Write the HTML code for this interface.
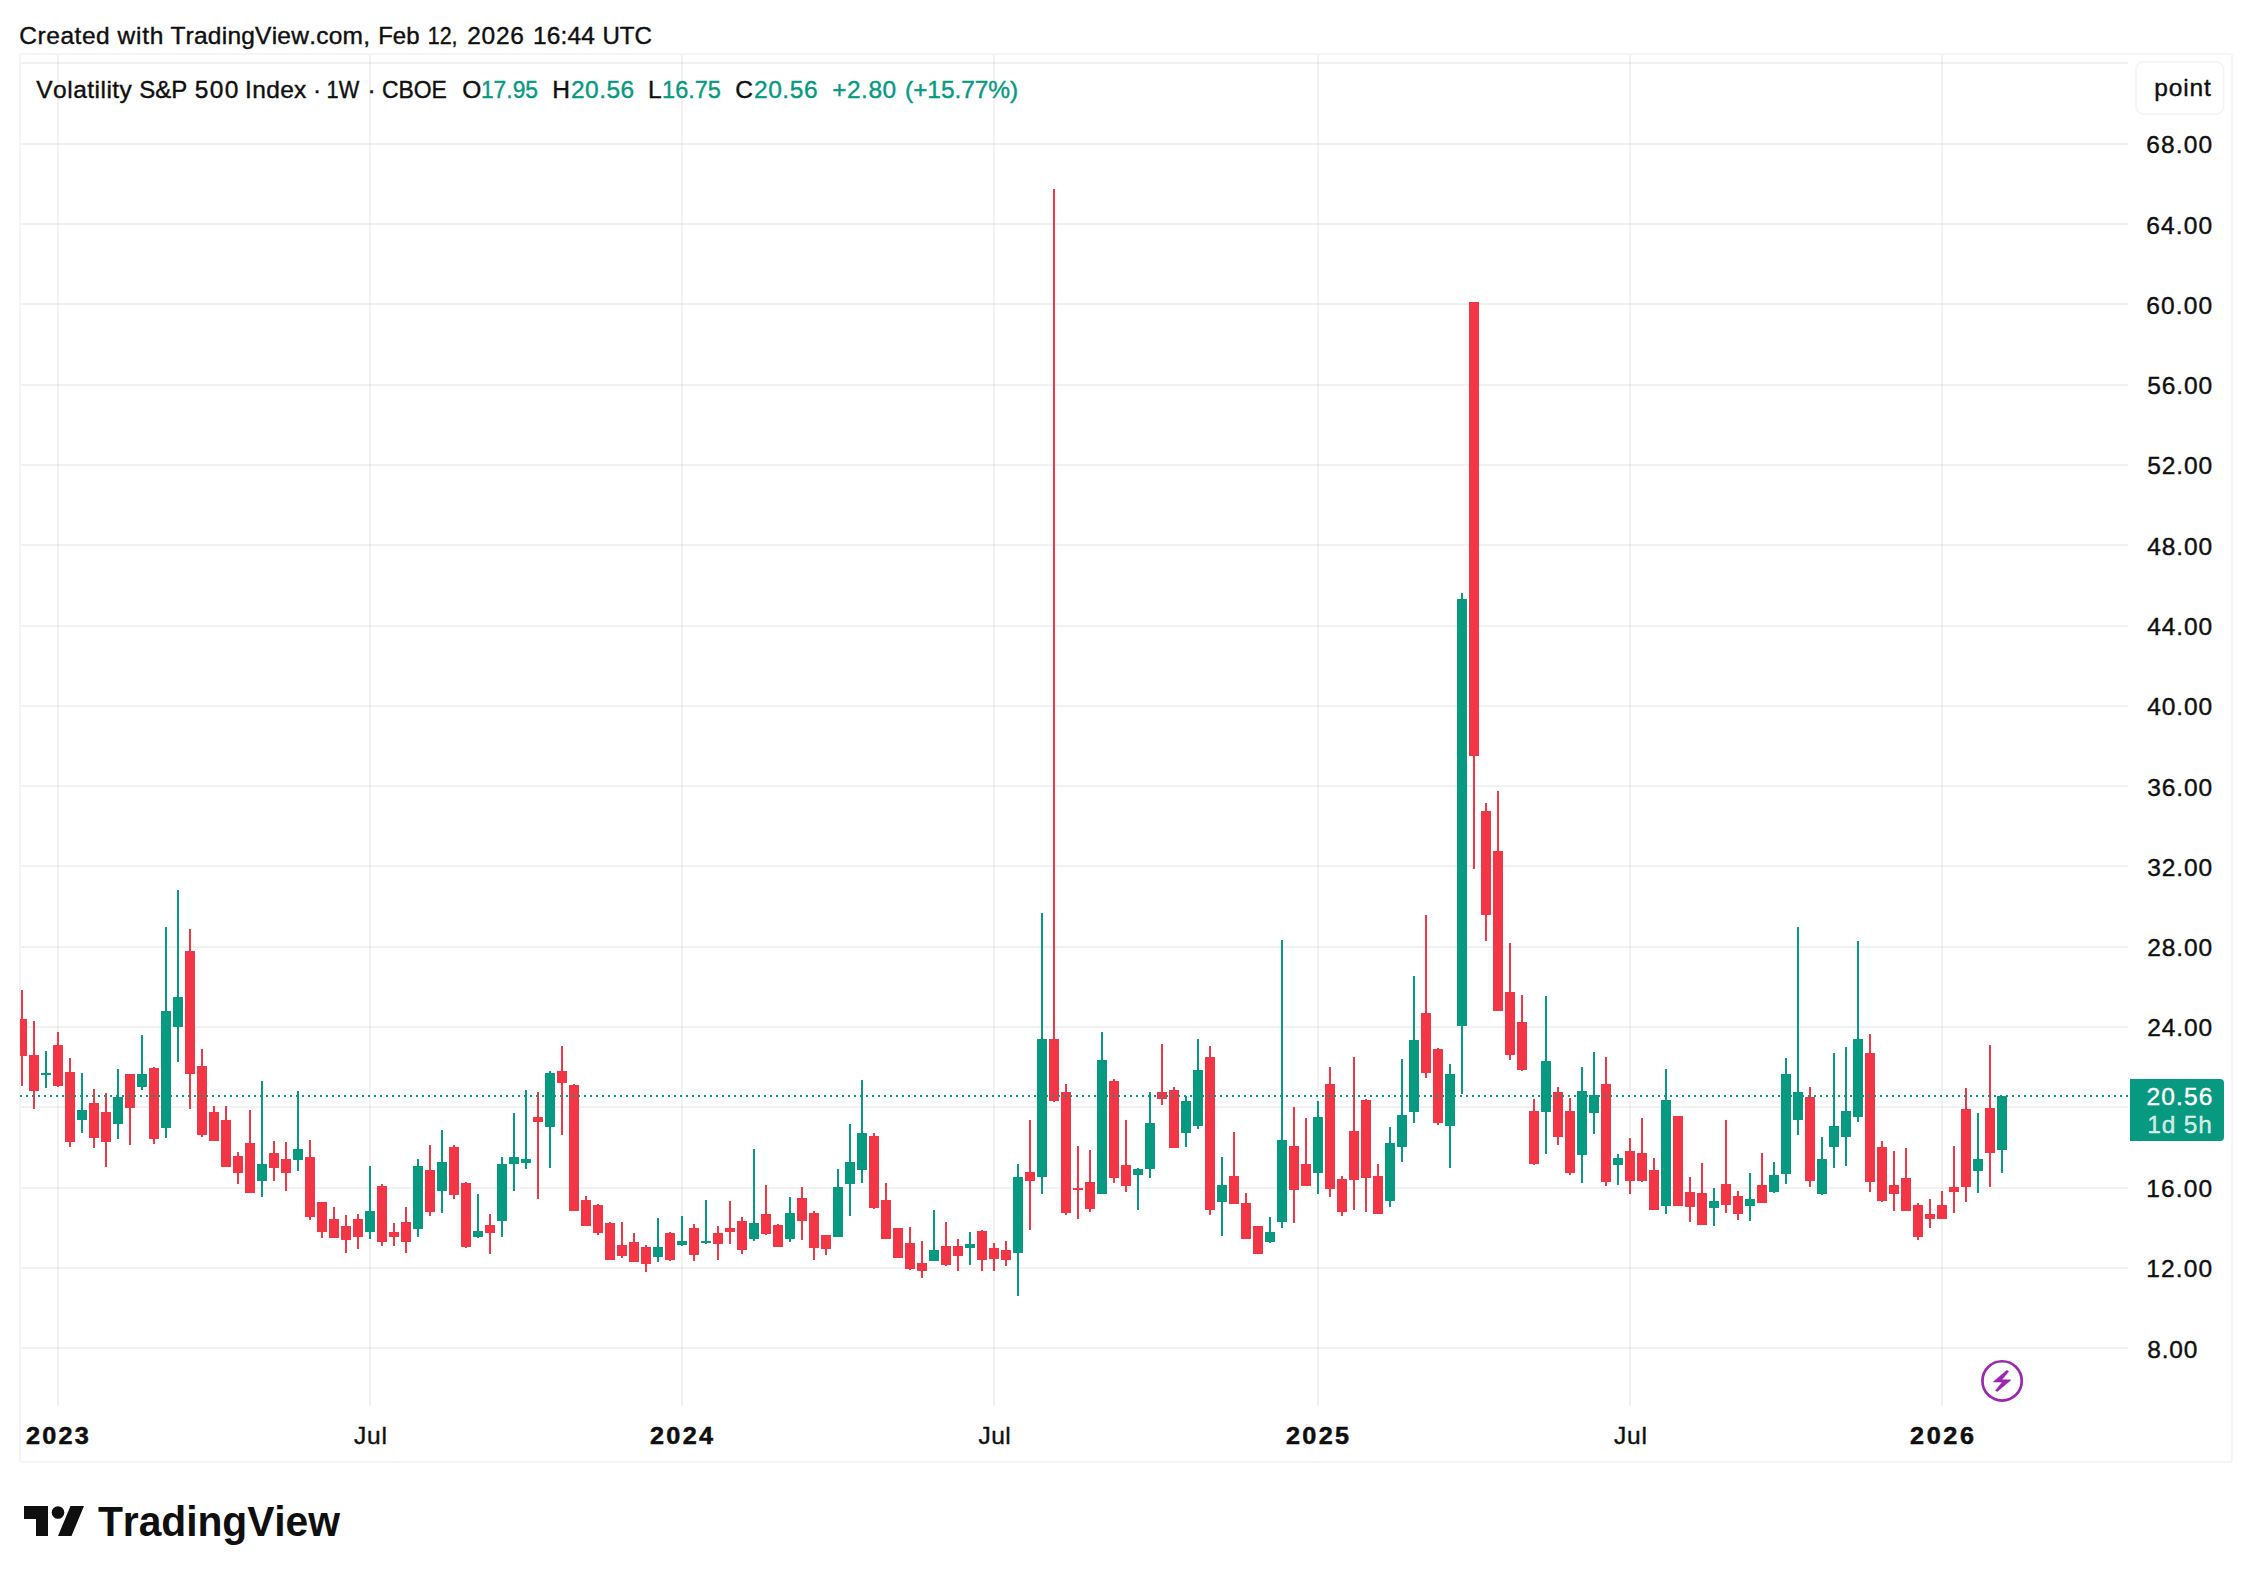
<!DOCTYPE html><html><head><meta charset="utf-8"><title>VIX chart</title><style>html,body{margin:0;padding:0;background:#fff}body{width:2252px;height:1582px;overflow:hidden}</style></head><body><svg width="2252" height="1582" viewBox="0 0 2252 1582" font-family="'Liberation Sans', Arial, sans-serif" style="display:block;font-kerning:none">
<rect width="2252" height="1582" fill="#fff"/>
<g fill="rgba(0,0,0,0.05)" shape-rendering="crispEdges">
<rect x="21" y="1347" width="2107" height="2"/>
<rect x="21" y="1267" width="2107" height="2"/>
<rect x="21" y="1187" width="2107" height="2"/>
<rect x="21" y="1106" width="2107" height="2"/>
<rect x="21" y="1026" width="2107" height="2"/>
<rect x="21" y="946" width="2107" height="2"/>
<rect x="21" y="865" width="2107" height="2"/>
<rect x="21" y="785" width="2107" height="2"/>
<rect x="21" y="705" width="2107" height="2"/>
<rect x="21" y="625" width="2107" height="2"/>
<rect x="21" y="544" width="2107" height="2"/>
<rect x="21" y="464" width="2107" height="2"/>
<rect x="21" y="384" width="2107" height="2"/>
<rect x="21" y="303" width="2107" height="2"/>
<rect x="21" y="223" width="2107" height="2"/>
<rect x="21" y="143" width="2107" height="2"/>
<rect x="21" y="62" width="2107" height="2"/>
<rect x="57" y="55" width="2" height="1351"/>
<rect x="369" y="55" width="2" height="1351"/>
<rect x="681" y="55" width="2" height="1351"/>
<rect x="993" y="55" width="2" height="1351"/>
<rect x="1317" y="55" width="2" height="1351"/>
<rect x="1629" y="55" width="2" height="1351"/>
<rect x="1941" y="55" width="2" height="1351"/>
</g>
<rect x="20" y="54" width="2212" height="1408" rx="2" fill="none" stroke="#f5f5f5" stroke-width="2"/>
<defs><clipPath id="pc"><rect x="20" y="56" width="2108" height="1350"/></clipPath></defs>
<g clip-path="url(#pc)" shape-rendering="crispEdges">
<path fill="#f23645" d="M21 990h2V1086h-2zM17 1019h10V1056h-10z"/>
<path fill="#f23645" d="M33 1021h2V1109h-2zM29 1055h10V1091h-10z"/>
<path fill="#089981" d="M45 1051h2V1088h-2zM41 1073h10V1075h-10z"/>
<path fill="#f23645" d="M57 1032h2V1087h-2zM53 1045h10V1086h-10z"/>
<path fill="#f23645" d="M69 1058h2V1147h-2zM65 1072h10V1142h-10z"/>
<path fill="#089981" d="M81 1073h2V1133h-2zM77 1110h10V1120h-10z"/>
<path fill="#f23645" d="M93 1089h2V1148h-2zM89 1103h10V1138h-10z"/>
<path fill="#f23645" d="M105 1093h2V1167h-2zM101 1112h10V1142h-10z"/>
<path fill="#089981" d="M117 1069h2V1139h-2zM113 1097h10V1124h-10z"/>
<path fill="#f23645" d="M129 1074h2V1145h-2zM125 1074h10V1108h-10z"/>
<path fill="#089981" d="M141 1035h2V1090h-2zM137 1074h10V1087h-10z"/>
<path fill="#f23645" d="M153 1067h2V1144h-2zM149 1068h10V1139h-10z"/>
<path fill="#089981" d="M165 927h2V1138h-2zM161 1011h10V1128h-10z"/>
<path fill="#089981" d="M177 890h2V1062h-2zM173 997h10V1027h-10z"/>
<path fill="#f23645" d="M189 929h2V1109h-2zM185 951h10V1074h-10z"/>
<path fill="#f23645" d="M201 1049h2V1137h-2zM197 1066h10V1135h-10z"/>
<path fill="#f23645" d="M213 1106h2V1141h-2zM209 1112h10V1141h-10z"/>
<path fill="#f23645" d="M225 1106h2V1167h-2zM221 1120h10V1167h-10z"/>
<path fill="#f23645" d="M237 1152h2V1184h-2zM233 1156h10V1173h-10z"/>
<path fill="#f23645" d="M249 1110h2V1193h-2zM245 1143h10V1193h-10z"/>
<path fill="#089981" d="M261 1081h2V1197h-2zM257 1164h10V1181h-10z"/>
<path fill="#f23645" d="M273 1141h2V1181h-2zM269 1153h10V1168h-10z"/>
<path fill="#f23645" d="M285 1142h2V1191h-2zM281 1159h10V1173h-10z"/>
<path fill="#089981" d="M297 1091h2V1171h-2zM293 1149h10V1160h-10z"/>
<path fill="#f23645" d="M309 1140h2V1220h-2zM305 1157h10V1217h-10z"/>
<path fill="#f23645" d="M321 1202h2V1238h-2zM317 1202h10V1232h-10z"/>
<path fill="#f23645" d="M333 1207h2V1238h-2zM329 1219h10V1238h-10z"/>
<path fill="#f23645" d="M345 1215h2V1253h-2zM341 1226h10V1240h-10z"/>
<path fill="#f23645" d="M357 1214h2V1249h-2zM353 1219h10V1237h-10z"/>
<path fill="#089981" d="M369 1166h2V1239h-2zM365 1211h10V1232h-10z"/>
<path fill="#f23645" d="M381 1184h2V1246h-2zM377 1186h10V1242h-10z"/>
<path fill="#f23645" d="M393 1223h2V1246h-2zM389 1232h10V1237h-10z"/>
<path fill="#f23645" d="M405 1207h2V1253h-2zM401 1222h10V1242h-10z"/>
<path fill="#089981" d="M417 1159h2V1237h-2zM413 1166h10V1229h-10z"/>
<path fill="#f23645" d="M429 1145h2V1216h-2zM425 1170h10V1212h-10z"/>
<path fill="#089981" d="M441 1130h2V1213h-2zM437 1162h10V1191h-10z"/>
<path fill="#f23645" d="M453 1145h2V1199h-2zM449 1147h10V1195h-10z"/>
<path fill="#f23645" d="M465 1182h2V1248h-2zM461 1183h10V1247h-10z"/>
<path fill="#089981" d="M477 1194h2V1238h-2zM473 1231h10V1237h-10z"/>
<path fill="#f23645" d="M489 1214h2V1254h-2zM485 1225h10V1233h-10z"/>
<path fill="#089981" d="M501 1157h2V1237h-2zM497 1164h10V1221h-10z"/>
<path fill="#089981" d="M513 1113h2V1191h-2zM509 1157h10V1164h-10z"/>
<path fill="#089981" d="M525 1090h2V1169h-2zM521 1159h10V1163h-10z"/>
<path fill="#f23645" d="M537 1092h2V1199h-2zM533 1117h10V1122h-10z"/>
<path fill="#089981" d="M549 1071h2V1168h-2zM545 1073h10V1127h-10z"/>
<path fill="#f23645" d="M561 1046h2V1135h-2zM557 1071h10V1083h-10z"/>
<path fill="#f23645" d="M573 1084h2V1211h-2zM569 1085h10V1211h-10z"/>
<path fill="#f23645" d="M585 1196h2V1226h-2zM581 1200h10V1226h-10z"/>
<path fill="#f23645" d="M597 1204h2V1235h-2zM593 1205h10V1233h-10z"/>
<path fill="#f23645" d="M609 1222h2V1260h-2zM605 1223h10V1260h-10z"/>
<path fill="#f23645" d="M621 1222h2V1258h-2zM617 1245h10V1256h-10z"/>
<path fill="#f23645" d="M633 1233h2V1262h-2zM629 1242h10V1262h-10z"/>
<path fill="#f23645" d="M645 1245h2V1272h-2zM641 1247h10V1264h-10z"/>
<path fill="#089981" d="M657 1218h2V1262h-2zM653 1247h10V1257h-10z"/>
<path fill="#f23645" d="M669 1232h2V1261h-2zM665 1233h10V1260h-10z"/>
<path fill="#089981" d="M681 1216h2V1246h-2zM677 1241h10V1245h-10z"/>
<path fill="#f23645" d="M693 1224h2V1261h-2zM689 1228h10V1255h-10z"/>
<path fill="#089981" d="M705 1200h2V1244h-2zM701 1241h10V1243h-10z"/>
<path fill="#f23645" d="M717 1226h2V1260h-2zM713 1233h10V1244h-10z"/>
<path fill="#f23645" d="M729 1201h2V1244h-2zM725 1228h10V1232h-10z"/>
<path fill="#f23645" d="M741 1217h2V1254h-2zM737 1221h10V1250h-10z"/>
<path fill="#089981" d="M753 1149h2V1241h-2zM749 1223h10V1239h-10z"/>
<path fill="#f23645" d="M765 1185h2V1235h-2zM761 1214h10V1234h-10z"/>
<path fill="#f23645" d="M777 1224h2V1247h-2zM773 1225h10V1247h-10z"/>
<path fill="#089981" d="M789 1197h2V1242h-2zM785 1213h10V1239h-10z"/>
<path fill="#f23645" d="M801 1187h2V1240h-2zM797 1198h10V1221h-10z"/>
<path fill="#f23645" d="M813 1211h2V1260h-2zM809 1213h10V1248h-10z"/>
<path fill="#f23645" d="M825 1235h2V1255h-2zM821 1235h10V1249h-10z"/>
<path fill="#089981" d="M837 1169h2V1237h-2zM833 1187h10V1237h-10z"/>
<path fill="#089981" d="M849 1124h2V1216h-2zM845 1162h10V1184h-10z"/>
<path fill="#089981" d="M861 1080h2V1183h-2zM857 1133h10V1170h-10z"/>
<path fill="#f23645" d="M873 1133h2V1209h-2zM869 1136h10V1208h-10z"/>
<path fill="#f23645" d="M885 1183h2V1239h-2zM881 1200h10V1239h-10z"/>
<path fill="#f23645" d="M897 1228h2V1258h-2zM893 1228h10V1258h-10z"/>
<path fill="#f23645" d="M909 1227h2V1270h-2zM905 1243h10V1269h-10z"/>
<path fill="#f23645" d="M921 1241h2V1278h-2zM917 1263h10V1271h-10z"/>
<path fill="#089981" d="M933 1210h2V1261h-2zM929 1250h10V1261h-10z"/>
<path fill="#f23645" d="M945 1222h2V1266h-2zM941 1246h10V1265h-10z"/>
<path fill="#f23645" d="M957 1239h2V1271h-2zM953 1246h10V1256h-10z"/>
<path fill="#089981" d="M969 1232h2V1265h-2zM965 1244h10V1248h-10z"/>
<path fill="#f23645" d="M981 1230h2V1271h-2zM977 1231h10V1260h-10z"/>
<path fill="#f23645" d="M993 1243h2V1271h-2zM989 1248h10V1259h-10z"/>
<path fill="#f23645" d="M1005 1241h2V1266h-2zM1001 1250h10V1260h-10z"/>
<path fill="#089981" d="M1017 1164h2V1296h-2zM1013 1177h10V1253h-10z"/>
<path fill="#f23645" d="M1029 1120h2V1230h-2zM1025 1172h10V1181h-10z"/>
<path fill="#089981" d="M1041 913h2V1194h-2zM1037 1039h10V1177h-10z"/>
<path fill="#f23645" d="M1053 189h2V1102h-2zM1049 1039h10V1101h-10z"/>
<path fill="#f23645" d="M1065 1084h2V1215h-2zM1061 1092h10V1213h-10z"/>
<path fill="#f23645" d="M1077 1146h2V1219h-2zM1073 1188h10V1190h-10z"/>
<path fill="#f23645" d="M1089 1150h2V1212h-2zM1085 1182h10V1209h-10z"/>
<path fill="#089981" d="M1101 1032h2V1194h-2zM1097 1060h10V1194h-10z"/>
<path fill="#f23645" d="M1113 1079h2V1183h-2zM1109 1081h10V1178h-10z"/>
<path fill="#f23645" d="M1125 1120h2V1192h-2zM1121 1165h10V1186h-10z"/>
<path fill="#089981" d="M1137 1168h2V1210h-2zM1133 1169h10V1175h-10z"/>
<path fill="#089981" d="M1149 1092h2V1178h-2zM1145 1123h10V1169h-10z"/>
<path fill="#f23645" d="M1161 1044h2V1105h-2zM1157 1092h10V1099h-10z"/>
<path fill="#f23645" d="M1173 1087h2V1148h-2zM1169 1090h10V1148h-10z"/>
<path fill="#089981" d="M1185 1096h2V1147h-2zM1181 1101h10V1133h-10z"/>
<path fill="#089981" d="M1197 1039h2V1129h-2zM1193 1070h10V1126h-10z"/>
<path fill="#f23645" d="M1209 1046h2V1215h-2zM1205 1057h10V1210h-10z"/>
<path fill="#089981" d="M1221 1157h2V1236h-2zM1217 1185h10V1202h-10z"/>
<path fill="#f23645" d="M1233 1132h2V1204h-2zM1229 1176h10V1204h-10z"/>
<path fill="#f23645" d="M1245 1193h2V1239h-2zM1241 1203h10V1239h-10z"/>
<path fill="#f23645" d="M1257 1226h2V1254h-2zM1253 1226h10V1254h-10z"/>
<path fill="#089981" d="M1269 1217h2V1243h-2zM1265 1232h10V1242h-10z"/>
<path fill="#089981" d="M1281 940h2V1228h-2zM1277 1140h10V1222h-10z"/>
<path fill="#f23645" d="M1293 1107h2V1223h-2zM1289 1146h10V1190h-10z"/>
<path fill="#f23645" d="M1305 1118h2V1186h-2zM1301 1164h10V1186h-10z"/>
<path fill="#089981" d="M1317 1101h2V1194h-2zM1313 1117h10V1173h-10z"/>
<path fill="#f23645" d="M1329 1067h2V1197h-2zM1325 1084h10V1189h-10z"/>
<path fill="#f23645" d="M1341 1176h2V1216h-2zM1337 1179h10V1212h-10z"/>
<path fill="#f23645" d="M1353 1057h2V1210h-2zM1349 1131h10V1180h-10z"/>
<path fill="#f23645" d="M1365 1099h2V1212h-2zM1361 1100h10V1178h-10z"/>
<path fill="#f23645" d="M1377 1164h2V1214h-2zM1373 1176h10V1214h-10z"/>
<path fill="#089981" d="M1389 1127h2V1207h-2zM1385 1143h10V1201h-10z"/>
<path fill="#089981" d="M1401 1059h2V1162h-2zM1397 1115h10V1147h-10z"/>
<path fill="#089981" d="M1413 976h2V1123h-2zM1409 1040h10V1112h-10z"/>
<path fill="#f23645" d="M1425 915h2V1078h-2zM1421 1013h10V1073h-10z"/>
<path fill="#f23645" d="M1437 1048h2V1125h-2zM1433 1049h10V1123h-10z"/>
<path fill="#089981" d="M1449 1064h2V1168h-2zM1445 1074h10V1126h-10z"/>
<path fill="#089981" d="M1461 593h2V1094h-2zM1457 599h10V1026h-10z"/>
<path fill="#f23645" d="M1473 302h2V869h-2zM1469 302h10V756h-10z"/>
<path fill="#f23645" d="M1485 803h2V941h-2zM1481 811h10V915h-10z"/>
<path fill="#f23645" d="M1497 791h2V1011h-2zM1493 851h10V1011h-10z"/>
<path fill="#f23645" d="M1509 943h2V1060h-2zM1505 992h10V1055h-10z"/>
<path fill="#f23645" d="M1521 995h2V1071h-2zM1517 1022h10V1070h-10z"/>
<path fill="#f23645" d="M1533 1099h2V1165h-2zM1529 1111h10V1164h-10z"/>
<path fill="#089981" d="M1545 996h2V1154h-2zM1541 1061h10V1112h-10z"/>
<path fill="#f23645" d="M1557 1087h2V1145h-2zM1553 1092h10V1137h-10z"/>
<path fill="#f23645" d="M1569 1098h2V1175h-2zM1565 1111h10V1173h-10z"/>
<path fill="#089981" d="M1581 1067h2V1183h-2zM1577 1091h10V1155h-10z"/>
<path fill="#089981" d="M1593 1052h2V1134h-2zM1589 1095h10V1113h-10z"/>
<path fill="#f23645" d="M1605 1057h2V1186h-2zM1601 1084h10V1182h-10z"/>
<path fill="#089981" d="M1617 1154h2V1185h-2zM1613 1158h10V1165h-10z"/>
<path fill="#f23645" d="M1629 1138h2V1194h-2zM1625 1151h10V1181h-10z"/>
<path fill="#f23645" d="M1641 1118h2V1182h-2zM1637 1153h10V1181h-10z"/>
<path fill="#f23645" d="M1653 1158h2V1210h-2zM1649 1170h10V1210h-10z"/>
<path fill="#089981" d="M1665 1069h2V1214h-2zM1661 1100h10V1206h-10z"/>
<path fill="#f23645" d="M1677 1116h2V1206h-2zM1673 1116h10V1206h-10z"/>
<path fill="#f23645" d="M1689 1177h2V1222h-2zM1685 1192h10V1207h-10z"/>
<path fill="#f23645" d="M1701 1163h2V1225h-2zM1697 1193h10V1225h-10z"/>
<path fill="#089981" d="M1713 1188h2V1226h-2zM1709 1201h10V1208h-10z"/>
<path fill="#f23645" d="M1725 1120h2V1213h-2zM1721 1184h10V1205h-10z"/>
<path fill="#f23645" d="M1737 1191h2V1220h-2zM1733 1196h10V1214h-10z"/>
<path fill="#089981" d="M1749 1173h2V1221h-2zM1745 1199h10V1206h-10z"/>
<path fill="#f23645" d="M1761 1153h2V1203h-2zM1757 1185h10V1203h-10z"/>
<path fill="#089981" d="M1773 1162h2V1193h-2zM1769 1175h10V1192h-10z"/>
<path fill="#089981" d="M1785 1058h2V1184h-2zM1781 1074h10V1174h-10z"/>
<path fill="#089981" d="M1797 927h2V1135h-2zM1793 1092h10V1120h-10z"/>
<path fill="#f23645" d="M1809 1087h2V1187h-2zM1805 1097h10V1181h-10z"/>
<path fill="#089981" d="M1821 1137h2V1195h-2zM1817 1159h10V1194h-10z"/>
<path fill="#089981" d="M1833 1053h2V1168h-2zM1829 1126h10V1147h-10z"/>
<path fill="#089981" d="M1845 1047h2V1166h-2zM1841 1111h10V1137h-10z"/>
<path fill="#089981" d="M1857 941h2V1122h-2zM1853 1039h10V1117h-10z"/>
<path fill="#f23645" d="M1869 1034h2V1192h-2zM1865 1053h10V1182h-10z"/>
<path fill="#f23645" d="M1881 1141h2V1202h-2zM1877 1147h10V1201h-10z"/>
<path fill="#f23645" d="M1893 1151h2V1211h-2zM1889 1185h10V1194h-10z"/>
<path fill="#f23645" d="M1905 1148h2V1211h-2zM1901 1178h10V1211h-10z"/>
<path fill="#f23645" d="M1917 1203h2V1240h-2zM1913 1205h10V1237h-10z"/>
<path fill="#f23645" d="M1929 1199h2V1228h-2zM1925 1214h10V1219h-10z"/>
<path fill="#f23645" d="M1941 1191h2V1219h-2zM1937 1205h10V1219h-10z"/>
<path fill="#f23645" d="M1953 1146h2V1213h-2zM1949 1187h10V1192h-10z"/>
<path fill="#f23645" d="M1965 1088h2V1202h-2zM1961 1109h10V1187h-10z"/>
<path fill="#089981" d="M1977 1113h2V1193h-2zM1973 1159h10V1171h-10z"/>
<path fill="#f23645" d="M1989 1045h2V1187h-2zM1985 1108h10V1153h-10z"/>
<path fill="#089981" d="M2001 1096h2V1173h-2zM1997 1096h10V1150h-10z"/>
</g>
<line x1="20" x2="2128" y1="1096" y2="1096" stroke="#089981" stroke-width="2" stroke-dasharray="2 4" shape-rendering="crispEdges"/>
<text x="19.30" y="44" font-size="24.5" fill="#0f0f0f" stroke="#0f0f0f" stroke-width="0.4" style="letter-spacing:0.546px">Created</text>
<text x="117.62" y="44" font-size="24.5" fill="#0f0f0f" stroke="#0f0f0f" stroke-width="0.4" style="letter-spacing:0.750px">with</text>
<text x="170.40" y="44" font-size="24.5" fill="#0f0f0f" stroke="#0f0f0f" stroke-width="0.4" style="letter-spacing:0.235px">TradingView.com,</text>
<text transform="translate(378.20 44) scale(0.9775 1)" font-size="24.5" fill="#0f0f0f" stroke="#0f0f0f" stroke-width="0.4" style="letter-spacing:0.000px">Feb</text>
<text transform="translate(427.70 44) scale(0.8765 1)" font-size="24.5" fill="#0f0f0f" stroke="#0f0f0f" stroke-width="0.4" style="letter-spacing:0.000px">12,</text>
<text x="467.20" y="44" font-size="24.5" fill="#0f0f0f" stroke="#0f0f0f" stroke-width="0.4" style="letter-spacing:0.767px">2026</text>
<text x="532.90" y="44" font-size="24.5" fill="#0f0f0f" stroke="#0f0f0f" stroke-width="0.4" style="letter-spacing:0.162px">16:44</text>
<text transform="translate(602.40 44) scale(0.9846 1)" font-size="24.5" fill="#0f0f0f" stroke="#0f0f0f" stroke-width="0.4" style="letter-spacing:0.000px">UTC</text>
<text x="36.30" y="98" font-size="24.5" fill="#0f0f0f" stroke="#0f0f0f" stroke-width="0.4" style="letter-spacing:0.481px">Volatility</text>
<text transform="translate(139.20 98) scale(0.9816 1)" font-size="24.5" fill="#0f0f0f" stroke="#0f0f0f" stroke-width="0.4" style="letter-spacing:0.000px">S&amp;P</text>
<text x="194.80" y="98" font-size="24.5" fill="#0f0f0f" stroke="#0f0f0f" stroke-width="0.4" style="letter-spacing:1.362px">500</text>
<text x="245.00" y="98" font-size="24.5" fill="#0f0f0f" stroke="#0f0f0f" stroke-width="0.4" style="letter-spacing:0.356px">Index</text>
<text x="312.90" y="98" font-size="24.5" fill="#0f0f0f" stroke="#0f0f0f" stroke-width="0.4" style="letter-spacing:0.000px">·</text>
<text transform="translate(326.60 98) scale(0.8871 1)" font-size="24.5" fill="#0f0f0f" stroke="#0f0f0f" stroke-width="0.4" style="letter-spacing:0.000px">1W</text>
<text x="367.40" y="98" font-size="24.5" fill="#0f0f0f" stroke="#0f0f0f" stroke-width="0.4" style="letter-spacing:0.000px">·</text>
<text transform="translate(382.00 98) scale(0.9341 1)" font-size="24.5" fill="#0f0f0f" stroke="#0f0f0f" stroke-width="0.4" style="letter-spacing:0.000px">CBOE</text>
<text x="462.20" y="98" font-size="24.5" fill="#0f0f0f" stroke="#0f0f0f" stroke-width="0.4" style="letter-spacing:0.000px">O</text>
<text transform="translate(480.90 98) scale(0.9322 1)" font-size="24.5" fill="#089981" stroke="#089981" stroke-width="0.4" style="letter-spacing:0.000px">17.95</text>
<text x="552.20" y="98" font-size="24.5" fill="#0f0f0f" stroke="#0f0f0f" stroke-width="0.4" style="letter-spacing:0.000px">H</text>
<text x="570.90" y="98" font-size="24.5" fill="#089981" stroke="#089981" stroke-width="0.4" style="letter-spacing:0.512px">20.56</text>
<text x="648.00" y="98" font-size="24.5" fill="#0f0f0f" stroke="#0f0f0f" stroke-width="0.4" style="letter-spacing:0.000px">L</text>
<text transform="translate(662.10 98) scale(0.96 1)" font-size="24.5" fill="#089981" stroke="#089981" stroke-width="0.4" style="letter-spacing:0.000px">16.75</text>
<text x="735.20" y="98" font-size="24.5" fill="#0f0f0f" stroke="#0f0f0f" stroke-width="0.4" style="letter-spacing:0.000px">C</text>
<text x="753.90" y="98" font-size="24.5" fill="#089981" stroke="#089981" stroke-width="0.4" style="letter-spacing:0.612px">20.56</text>
<text x="832.20" y="98" font-size="24.5" fill="#089981" stroke="#089981" stroke-width="0.4" style="letter-spacing:0.500px">+2.80</text>
<text x="905.10" y="98" font-size="24.5" fill="#089981" stroke="#089981" stroke-width="0.4" style="letter-spacing:-0.094px">(+15.77%)</text>
<text x="2147.20" y="1358" font-size="24.5" fill="#0f0f0f" stroke="#0f0f0f" stroke-width="0.4" style="letter-spacing:0.858px">8.00</text>
<text x="2146.20" y="1277" font-size="24.5" fill="#0f0f0f" stroke="#0f0f0f" stroke-width="0.4" style="letter-spacing:1.188px">12.00</text>
<text x="2146.20" y="1197" font-size="24.5" fill="#0f0f0f" stroke="#0f0f0f" stroke-width="0.4" style="letter-spacing:1.188px">16.00</text>
<text x="2147.20" y="1036" font-size="24.5" fill="#0f0f0f" stroke="#0f0f0f" stroke-width="0.4" style="letter-spacing:0.938px">24.00</text>
<text x="2147.20" y="956" font-size="24.5" fill="#0f0f0f" stroke="#0f0f0f" stroke-width="0.4" style="letter-spacing:0.938px">28.00</text>
<text x="2147.20" y="876" font-size="24.5" fill="#0f0f0f" stroke="#0f0f0f" stroke-width="0.4" style="letter-spacing:0.938px">32.00</text>
<text x="2147.20" y="796" font-size="24.5" fill="#0f0f0f" stroke="#0f0f0f" stroke-width="0.4" style="letter-spacing:0.938px">36.00</text>
<text x="2147.20" y="715" font-size="24.5" fill="#0f0f0f" stroke="#0f0f0f" stroke-width="0.4" style="letter-spacing:0.938px">40.00</text>
<text x="2147.20" y="635" font-size="24.5" fill="#0f0f0f" stroke="#0f0f0f" stroke-width="0.4" style="letter-spacing:0.938px">44.00</text>
<text x="2147.20" y="555" font-size="24.5" fill="#0f0f0f" stroke="#0f0f0f" stroke-width="0.4" style="letter-spacing:0.938px">48.00</text>
<text x="2147.20" y="474" font-size="24.5" fill="#0f0f0f" stroke="#0f0f0f" stroke-width="0.4" style="letter-spacing:0.938px">52.00</text>
<text x="2147.20" y="394" font-size="24.5" fill="#0f0f0f" stroke="#0f0f0f" stroke-width="0.4" style="letter-spacing:0.938px">56.00</text>
<text x="2146.20" y="314" font-size="24.5" fill="#0f0f0f" stroke="#0f0f0f" stroke-width="0.4" style="letter-spacing:1.188px">60.00</text>
<text x="2146.20" y="234" font-size="24.5" fill="#0f0f0f" stroke="#0f0f0f" stroke-width="0.4" style="letter-spacing:1.188px">64.00</text>
<text x="2146.20" y="153" font-size="24.5" fill="#0f0f0f" stroke="#0f0f0f" stroke-width="0.4" style="letter-spacing:1.188px">68.00</text>
<text transform="translate(25.90 1444) scale(1.03 1)" font-size="24.5" font-weight="700" fill="#0f0f0f" stroke="#0f0f0f" stroke-width="0.5" style="letter-spacing:2.222px">2023</text>
<text x="353.90" y="1444" font-size="24.5" fill="#0f0f0f" stroke="#0f0f0f" stroke-width="0.4" style="letter-spacing:0.913px">Jul</text>
<text transform="translate(650.00 1444) scale(1.03 1)" font-size="24.5" font-weight="700" fill="#0f0f0f" stroke="#0f0f0f" stroke-width="0.5" style="letter-spacing:2.222px">2024</text>
<text x="978.50" y="1444" font-size="24.5" fill="#0f0f0f" stroke="#0f0f0f" stroke-width="0.4" style="letter-spacing:0.412px">Jul</text>
<text transform="translate(1286.00 1444) scale(1.03 1)" font-size="24.5" font-weight="700" fill="#0f0f0f" stroke="#0f0f0f" stroke-width="0.5" style="letter-spacing:2.222px">2025</text>
<text x="1613.90" y="1444" font-size="24.5" fill="#0f0f0f" stroke="#0f0f0f" stroke-width="0.4" style="letter-spacing:0.912px">Jul</text>
<text transform="translate(1910.00 1444) scale(1.03 1)" font-size="24.5" font-weight="700" fill="#0f0f0f" stroke="#0f0f0f" stroke-width="0.5" style="letter-spacing:2.545px">2026</text>
<path fill="#089981" d="M2130 1079h90a4 4 0 0 1 4 4v54a4 4 0 0 1-4 4h-90z"/>
<text x="2146.60" y="1105" font-size="24.5" fill="#fff" stroke="#fff" stroke-width="0.4" style="letter-spacing:1.137px">20.56</text>
<text x="2147.30" y="1133.1" font-size="24.5" fill="#fff" fill-opacity="0.8" stroke="#fff" stroke-width="0.4" stroke-opacity="0.8" style="letter-spacing:0.812px">1d 5h</text>
<rect x="2136" y="62" width="87.5" height="52" rx="7" fill="#fff" stroke="#f5f5f5" stroke-width="1.8"/>
<text x="2154.20" y="96" font-size="24.5" fill="#0f0f0f" stroke="#0f0f0f" stroke-width="0.4" style="letter-spacing:0.869px">point</text>
<g transform="translate(2002.1 1380.9)"><circle r="19.65" fill="#fff" stroke="#9c27b0" stroke-width="2.7"/><path fill="#9c27b0" stroke="#9c27b0" stroke-width="0.5" stroke-linejoin="round" d="M4.7 -10.6L6.6 -9.5L-0.2 -1.1H8.4V-0.5L-4.7 10.6L-6.6 9.5L0.2 1.1H-8.4V0.5z"/></g>
<g fill="#0f0f0f"><path d="M24 1506h24v30H36v-17H24z"/><circle cx="58" cy="1512.5" r="6.3"/><path d="M70.5 1506H84l-12.5 30H58z"/></g>
<text transform="translate(98.00 1535.8) scale(0.95 1)" font-size="43" font-weight="700" fill="#0f0f0f" style="letter-spacing:-0.084px">TradingView</text>
</svg></body></html>
